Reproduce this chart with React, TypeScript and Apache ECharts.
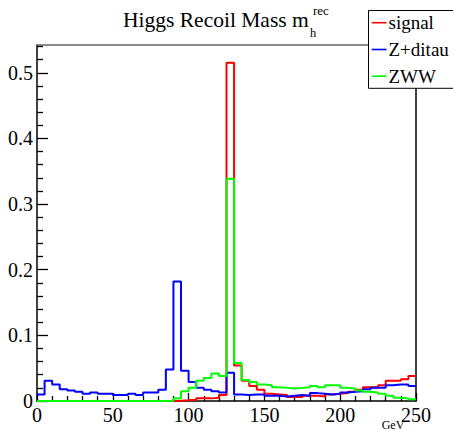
import React, { useEffect, useRef } from "react";
import * as echarts from "echarts";

// Histogram binning (GeV)
const binWidth = 5;
const nBins = 50;
const binEdges = Array.from({ length: nBins + 1 }, (_, i) => i * binWidth);

const seriesNames = ["signal", "Z+ditau", "ZWW"];
const seriesColors = ["#ff0000", "#0000ff", "#00ff00"];

// signal
const signalValues = [
  0, 0, 0, 0, 0, 0, 0, 0, 0, 0,
  0, 0, 0, 0, 0, 0, 0, 0, 0.0005, 0.001,
  0.002, 0.004, 0.004, 0.005, 0.009, 0.5155, 0.054, 0.031, 0.023, 0.017,
  0.011, 0.010, 0.009, 0.006, 0.006, 0.008, 0.008, 0.007, 0.010, 0.011,
  0.012, 0.014, 0.017, 0.021, 0.021, 0.024, 0.031, 0.031, 0.033, 0.038,
];
// Z+ditau
const zditauValues = [
  0.010, 0.031, 0.025, 0.018, 0.016, 0.014, 0.011, 0.013, 0.011, 0.011,
  0.009, 0.009, 0.011, 0.009, 0.013, 0.013, 0.017, 0.048, 0.182, 0.046,
  0.029, 0.020, 0.017, 0.015, 0.013, 0.043, 0.010, 0.009, 0.010, 0.010,
  0.008, 0.008, 0.007, 0.008, 0.009, 0.008, 0.012, 0.011, 0.010, 0.011,
  0.013, 0.014, 0.015, 0.018, 0.020, 0.020, 0.024, 0.025, 0.025, 0.023,
];
// ZWW
const zwwValues = [
  0, 0, 0, 0, 0, 0, 0, 0, 0, 0,
  0, 0, 0, 0, 0, 0, 0, 0.0005, 0.004, 0.015,
  0.020, 0.031, 0.035, 0.042, 0.038, 0.3385, 0.058, 0.032, 0.029, 0.025,
  0.024, 0.021, 0.020, 0.019, 0.020, 0.021, 0.023, 0.021, 0.024, 0.024,
  0.020, 0.019, 0.016, 0.014, 0.013, 0.011, 0.008, 0.005, 0.004, 0.0025,
];

const xMin = 0;
const xMax = 250;
const xInterval = 50;
const xTickValues = [0, 50, 100, 150, 200, 250];
const xTickLabels = ["0", "50", "100", "150", "200", "250"];
const yMin = 0;
const yMax = 0.5424;
const yMajorTicks = [0, 0.1, 0.2, 0.3, 0.4, 0.5];
const yTickLabels = ["0", "0.1", "0.2", "0.3", "0.4", "0.5"];
const yMinorStep = 0.02;

const FONT = "Liberation Serif";

function toSteps(values: number[]): number[][] {
  const pts = values.map((v, i) => [binEdges[i], v]);
  pts.push([binEdges[values.length], values[values.length - 1]]);
  return pts;
}

export default function App() {
  const ref = useRef<HTMLDivElement>(null);

  useEffect(() => {
    if (!ref.current) return;
    const chart = echarts.init(ref.current, null, { renderer: "svg" });

    const minorTicks: number[] = [];
    for (let k = 1; k * yMinorStep < yMax; k++) {
      const v = Math.round(k * yMinorStep * 1000) / 1000;
      if (Math.abs(v * 10 - Math.round(v * 10)) > 1e-6) minorTicks.push(v);
    }

    const allValues = [signalValues, zditauValues, zwwValues];

    const legendX = 368.5;
    const legendY = 10.5;
    const legendRows = [22.7, 49.5, 76.2];

    const baseGraphic: any[] = [
      {
        type: "text",
        x: 123,
        y: 19.5,
        style: {
          text: "Higgs Recoil Mass m",
          font: `21.5px ${FONT}`,
          fill: "#000",
          align: "left",
          verticalAlign: "middle",
        },
        z: 10,
      },
      {
        type: "text",
        x: 313,
        y: 10.8,
        style: {
          text: "rec",
          font: `13px ${FONT}`,
          fill: "#000",
          align: "left",
          verticalAlign: "middle",
        },
        z: 10,
      },
      {
        type: "text",
        x: 310,
        y: 32.5,
        style: {
          text: "h",
          font: `12.5px ${FONT}`,
          fill: "#000",
          align: "left",
          verticalAlign: "middle",
        },
        z: 10,
      },
      {
        type: "text",
        x: 393,
        y: 424.5,
        style: {
          text: "GeV",
          font: `12px ${FONT}`,
          fill: "#000",
          align: "center",
          verticalAlign: "middle",
        },
        z: 10,
      },
      {
        type: "rect",
        shape: { x: legendX, y: legendY, width: 120, height: 77.8 },
        style: { fill: "#ffffff", stroke: "#000", lineWidth: 1 },
        z: 20,
      },
      ...seriesNames.flatMap((name, i) => [
        {
          type: "line",
          shape: { x1: 371.7, y1: legendRows[i], x2: 386.5, y2: legendRows[i] },
          style: { stroke: seriesColors[i], lineWidth: 1.6 },
          z: 21,
        },
        {
          type: "text",
          x: 388.5,
          y: legendRows[i],
          style: {
            text: name,
            font: `19px ${FONT}`,
            fill: "#000",
            align: "left",
            verticalAlign: "middle",
          },
          z: 21,
        },
      ]),
    ];

    const option: any = {
      animation: false,
      backgroundColor: "#ffffff",
      grid: { left: 37, right: 37, top: 45, bottom: 29, containLabel: false },
      xAxis: [
        {
          type: "value",
          min: xMin,
          max: xMax,
          interval: xInterval,
          position: "bottom",
          axisLine: { show: true, onZero: false, lineStyle: { color: "#000", width: 1.5 } },
          axisTick: { show: true, inside: true, length: 8, lineStyle: { color: "#000", width: 1.3 } },
          minorTick: { show: true, splitNumber: 5, length: 5, lineStyle: { color: "#000", width: 1.3 } },
          axisLabel: { show: false },
          splitLine: { show: false },
          minorSplitLine: { show: false },
        },
        {
          type: "value",
          min: xMin,
          max: xMax,
          position: "top",
          axisLine: { show: true, onZero: false, lineStyle: { color: "#666", width: 1.5 } },
          axisTick: { show: false },
          axisLabel: { show: false },
          splitLine: { show: false },
        },
      ],
      yAxis: [
        {
          type: "value",
          min: yMin,
          max: yMax,
          position: "left",
          axisLine: { show: true, onZero: false, lineStyle: { color: "#000", width: 1.5 } },
          axisTick: {
            show: true,
            inside: true,
            length: 11,
            customValues: yMajorTicks,
            lineStyle: { color: "#000", width: 1.3 },
          },
          axisLabel: { show: false, customValues: yMajorTicks },
          splitLine: { show: false },
        },
        {
          type: "value",
          min: yMin,
          max: yMax,
          position: "left",
          axisLine: { show: false, onZero: false },
          axisTick: {
            show: true,
            inside: true,
            length: 6,
            customValues: minorTicks,
            lineStyle: { color: "#000", width: 1.3 },
          },
          axisLabel: { show: false, customValues: minorTicks },
          splitLine: { show: false },
        },
        {
          type: "value",
          min: 0,
          max: 1,
          position: "right",
          axisLine: { show: true, onZero: false, lineStyle: { color: "#000", width: 1.5 } },
          axisTick: { show: false },
          axisLabel: { show: false },
          splitLine: { show: false },
        },
      ],
      series: seriesNames.map((name, i) => ({
        name,
        type: "line",
        step: "end",
        xAxisIndex: 0,
        yAxisIndex: 0,
        symbol: "none",
        showSymbol: false,
        clip: true,
        lineStyle: { color: seriesColors[i], width: 2 },
        itemStyle: { color: seriesColors[i] },
        data: toSteps(allValues[i]),
        z: 2 + i,
      })),
      graphic: baseGraphic,
    };

    chart.setOption(option);

    // Tick labels placed through the chart's own axis scales
    const finder = { xAxisIndex: 0, yAxisIndex: 0 };
    const xLabelEls = xTickValues.map((v, i) => {
      const p = chart.convertToPixel(finder as any, [v, yMin]) as number[];
      return {
        type: "text",
        x: p[0],
        y: p[1] + 4,
        style: {
          text: xTickLabels[i],
          font: `20px ${FONT}`,
          fill: "#000",
          align: "center",
          verticalAlign: "top",
        },
        z: 10,
      };
    });
    const yLabelEls = yMajorTicks.map((v, i) => {
      const p = chart.convertToPixel(finder as any, [xMin, v]) as number[];
      return {
        type: "text",
        x: p[0] - 4,
        y: p[1],
        style: {
          text: yTickLabels[i],
          font: `20px ${FONT}`,
          fill: "#000",
          align: "right",
          verticalAlign: "middle",
        },
        z: 10,
      };
    });

    chart.setOption({ graphic: [...baseGraphic, ...xLabelEls, ...yLabelEls] });

    return () => chart.dispose();
  }, []);

  return (
    <div
      ref={ref}
      style={{ position: "fixed", left: 0, top: 0, width: 453, height: 430 }}
    />
  );
}
